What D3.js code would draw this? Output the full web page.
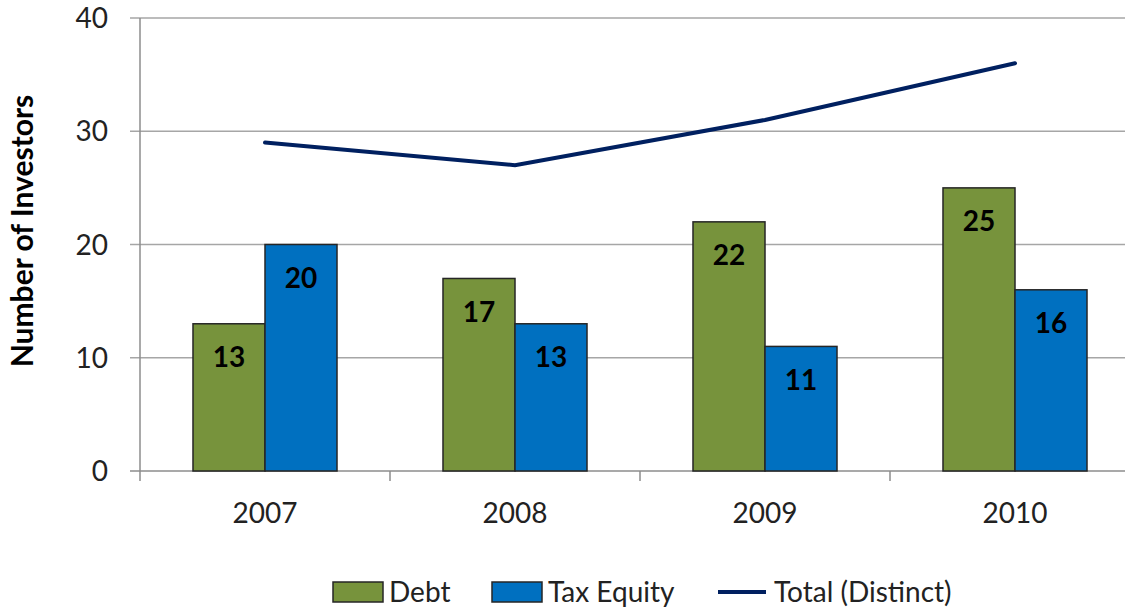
<!DOCTYPE html>
<html lang="en">
<head>
<meta charset="utf-8">
<title>Number of Investors</title>
<script src="https://cdn.jsdelivr.net/npm/d3@7"></script>
<style>
  html, body { margin: 0; padding: 0; background: #fff; }
  svg { display: block; font-family: Lato, "Open Sans", sans-serif; }
</style>
</head>
<body>
<div id="chart"></div>
<script>
  // data
  const years = ["2007", "2008", "2009", "2010"];
  const debt = [13, 17, 22, 25];
  const taxEquity = [20, 13, 11, 16];
  const totalDistinct = [29, 27, 31, 36];
  const yTicks = [0, 10, 20, 30, 40];

  const width = 1125, height = 611;
  const plotLeft = 140, plotTop = 18, plotBottom = 471;

  const svg = d3.select("#chart").append("svg")
      .attr("width", width)
      .attr("height", height);

  const x = d3.scaleBand()
      .domain(years)
      .range([plotLeft, plotLeft + 250 * years.length]);

  const series = ["Debt", "Tax Equity"];
  const colors = {"Debt": "#77933c", "Tax Equity": "#0070c0"};

  const x1 = d3.scaleBand()
      .domain(series)
      .range([0, x.bandwidth()])
      .paddingOuter(0.736);

  const y = d3.scaleLinear()
      .domain([0, 40])
      .range([plotBottom, plotTop]);

  // gridlines
  svg.append("g")
    .selectAll("line")
    .data(yTicks)
    .enter()
    .append("line")
      .attr("x1", plotLeft - 10)
      .attr("x2", width)
      .attr("y1", d => y(d))
      .attr("y2", d => y(d))
      .attr("stroke", d => d === 0 ? "#8c8c8c" : "#a6a6a6")
      .attr("stroke-width", 1.5);

  // y axis line
  svg.append("line")
      .attr("x1", plotLeft).attr("x2", plotLeft)
      .attr("y1", plotTop).attr("y2", plotBottom)
      .attr("stroke", "#8c8c8c")
      .attr("stroke-width", 1.5);

  // y tick labels
  svg.append("g")
    .selectAll("text")
    .data(yTicks)
    .enter()
    .append("text")
      .attr("x", 108)
      .attr("y", d => y(d))
      .attr("dy", "0.36em")
      .attr("text-anchor", "end")
      .attr("font-size", 28)
      .attr("fill", "#222")
      .text(d => d);

  // x ticks at band boundaries
  const bounds = years.map(d => x(d)).concat([x(years[years.length - 1]) + x.bandwidth()]);
  svg.append("g")
    .selectAll("line")
    .data(bounds)
    .enter()
    .append("line")
      .attr("x1", d => d).attr("x2", d => d)
      .attr("y1", plotBottom).attr("y2", plotBottom + 10)
      .attr("stroke", "#8c8c8c")
      .attr("stroke-width", 1.5);

  svg.append("g")
    .selectAll("text")
    .data(years)
    .enter()
    .append("text")
      .attr("x", d => x(d) + x.bandwidth() / 2)
      .attr("y", 513)
      .attr("dy", "0.36em")
      .attr("text-anchor", "middle")
      .attr("font-size", 28)
      .attr("fill", "#222")
      .text(d => d);

  // bars
  const rows = years.map((yr, i) => ({year: yr, values: [
    {key: "Debt", value: debt[i]},
    {key: "Tax Equity", value: taxEquity[i]}
  ]}));

  const groups = svg.append("g")
    .selectAll("g")
    .data(rows)
    .enter()
    .append("g")
      .attr("transform", d => "translate(" + x(d.year) + ",0)");

  groups.selectAll("rect")
    .data(d => d.values)
    .enter()
    .append("rect")
      .attr("x", d => x1(d.key))
      .attr("y", d => y(d.value))
      .attr("width", x1.bandwidth())
      .attr("height", d => plotBottom - y(d.value))
      .attr("fill", d => colors[d.key])
      .attr("stroke", "#262626")
      .attr("stroke-width", 1.5);

  groups.selectAll("text")
    .data(d => d.values)
    .enter()
    .append("text")
      .attr("x", d => x1(d.key) + x1.bandwidth() / 2)
      .attr("y", d => y(d.value) + 33)
      .attr("dy", "0.36em")
      .attr("text-anchor", "middle")
      .attr("font-size", 28)
      .attr("font-weight", "bold")
      .attr("fill", "#000")
      .text(d => d.value);

  // total line
  const line = d3.line()
      .x((d, i) => x(years[i]) + x.bandwidth() / 2)
      .y(d => y(d));

  svg.append("path")
      .datum(totalDistinct)
      .attr("d", line)
      .attr("fill", "none")
      .attr("stroke", "#002060")
      .attr("stroke-width", 4)
      .attr("stroke-linecap", "round");

  // y axis title
  svg.append("text")
      .attr("transform", "translate(33,231) rotate(-90)")
      .attr("text-anchor", "middle")
      .attr("font-size", 30)
      .attr("font-weight", "bold")
      .attr("fill", "#000")
      .text("Number of Investors");

  // legend
  const legend = svg.append("g");
  const legendItems = [
    {label: "Debt", type: "rect", color: colors["Debt"], x: 333},
    {label: "Tax Equity", type: "rect", color: colors["Tax Equity"], x: 492},
    {label: "Total (Distinct)", type: "line", color: "#002060", x: 718}
  ];

  legendItems.forEach(d => {
    if (d.type === "rect") {
      legend.append("rect")
        .attr("x", d.x).attr("y", 582)
        .attr("width", 50).attr("height", 20)
        .attr("fill", d.color)
        .attr("stroke", "#262626")
        .attr("stroke-width", 1.5);
    } else {
      legend.append("line")
        .attr("x1", d.x).attr("x2", d.x + 48)
        .attr("y1", 592).attr("y2", 592)
        .attr("stroke", d.color)
        .attr("stroke-width", 4);
    }
    legend.append("text")
      .attr("x", d.x + 56)
      .attr("y", 592)
      .attr("dy", "0.36em")
      .attr("font-size", 28)
      .attr("fill", "#222")
      .text(d.label);
  });
</script>
</body>
</html>
